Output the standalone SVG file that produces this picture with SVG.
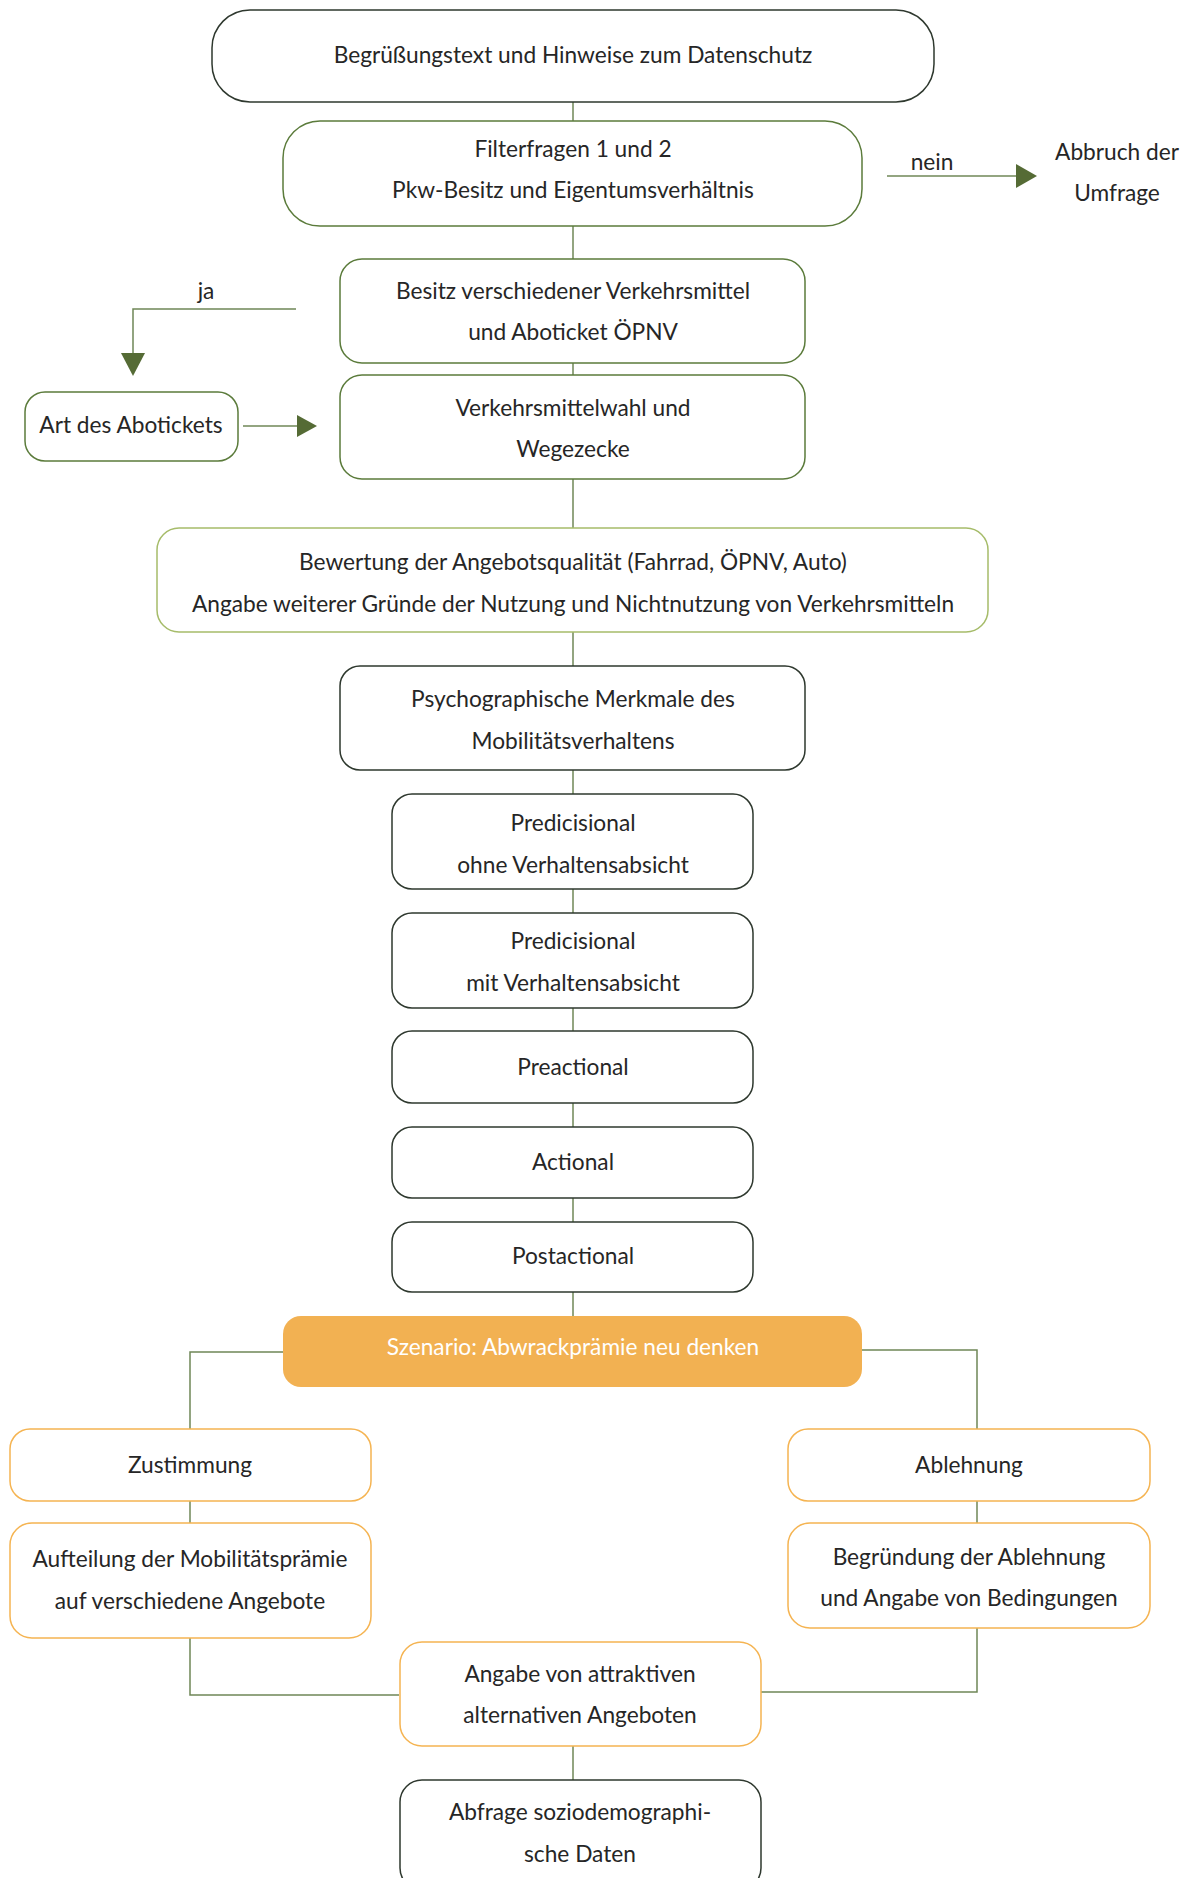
<svg xmlns="http://www.w3.org/2000/svg" width="1194" height="1878" viewBox="0 0 1194 1878">
<defs>
<style>
text{font-family:"Lato","Liberation Sans",sans-serif;font-size:22.7px;fill:#262626;text-anchor:middle;dominant-baseline:central}
.dark{fill:#fff;stroke:#2e382e;stroke-width:1.5}
.green{fill:#fff;stroke:#5b7b3b;stroke-width:1.5}
.lgreen{fill:#fff;stroke:#a6bc6a;stroke-width:1.5}
.orange{fill:#fff;stroke:#f5b452;stroke-width:1.5}
.line{fill:none;stroke:#6f8757;stroke-width:1.5}
.arrow{fill:#556b35}
</style>
</defs>
<g id="connectors">
<line class="line" x1="573" y1="102" x2="573" y2="121"/>
<line class="line" x1="573" y1="226" x2="573" y2="259"/>
<line class="line" x1="573" y1="363" x2="573" y2="375"/>
<line class="line" x1="573" y1="479" x2="573" y2="528"/>
<line class="line" x1="573" y1="632" x2="573" y2="666"/>
<line class="line" x1="573" y1="770" x2="573" y2="794"/>
<line class="line" x1="573" y1="889" x2="573" y2="913"/>
<line class="line" x1="573" y1="1008" x2="573" y2="1031"/>
<line class="line" x1="573" y1="1103" x2="573" y2="1127"/>
<line class="line" x1="573" y1="1198" x2="573" y2="1222"/>
<line class="line" x1="573" y1="1292" x2="573" y2="1316"/>
<line class="line" x1="887" y1="176" x2="1017" y2="176"/>
<polygon class="arrow" points="1016,164 1037,176 1016,188"/>
<text x="932" y="161">nein</text>
<polyline class="line" points="296,309 133,309 133,354"/>
<polygon class="arrow" points="121,353 145,353 133,376"/>
<text x="206" y="290">ja</text>
<line class="line" x1="243" y1="426" x2="298" y2="426"/>
<polygon class="arrow" points="297,415 317,426 297,437"/>
<polyline class="line" points="283,1352 190,1352 190,1429"/>
<polyline class="line" points="862,1350 977,1350 977,1429"/>
<line class="line" x1="190" y1="1501" x2="190" y2="1523"/>
<line class="line" x1="977" y1="1501" x2="977" y2="1523"/>
<polyline class="line" points="190,1638 190,1695 399,1695"/>
<polyline class="line" points="977,1628 977,1692 760,1692"/>
<line class="line" x1="573" y1="1745" x2="573" y2="1780"/>
</g>
<g id="n1"><rect class="dark" x="212" y="10" width="722" height="92" rx="38"/><text x="573" y="54">Begrüßungstext und Hinweise zum Datenschutz</text></g>
<g id="n2"><rect class="green" x="283" y="121" width="579" height="105" rx="37"/><text x="573" y="148">Filterfragen 1 und 2</text><text x="573" y="189">Pkw-Besitz und Eigentumsverhältnis</text></g>
<g id="n_abbruch"><text x="1117" y="151">Abbruch der</text><text x="1117" y="192">Umfrage</text></g>
<g id="n3"><rect class="green" x="340" y="259" width="465" height="104" rx="22"/><text x="573" y="290">Besitz verschiedener Verkehrsmittel</text><text x="573" y="331">und Aboticket ÖPNV</text></g>
<g id="n4"><rect class="green" x="340" y="375" width="465" height="104" rx="22"/><text x="573" y="407">Verkehrsmittelwahl und</text><text x="573" y="448">Wegezecke</text></g>
<g id="n5"><rect class="green" x="25" y="392" width="213" height="69" rx="20"/><text x="131" y="424">Art des Abotickets</text></g>
<g id="n6"><rect class="lgreen" x="157" y="528" width="831" height="104" rx="22"/><text x="573" y="561">Bewertung der Angebotsqualität (Fahrrad, ÖPNV, Auto)</text><text x="573" y="603">Angabe weiterer Gründe der Nutzung und Nichtnutzung von Verkehrsmitteln</text></g>
<g id="n7"><rect class="dark" x="340" y="666" width="465" height="104" rx="20"/><text x="573" y="698">Psychographische Merkmale des</text><text x="573" y="740">Mobilitätsverhaltens</text></g>
<g id="n8"><rect class="dark" x="392" y="794" width="361" height="95" rx="20"/><text x="573" y="822">Predicisional</text><text x="573" y="864">ohne Verhaltensabsicht</text></g>
<g id="n9"><rect class="dark" x="392" y="913" width="361" height="95" rx="20"/><text x="573" y="940">Predicisional</text><text x="573" y="982">mit Verhaltensabsicht</text></g>
<g id="n10"><rect class="dark" x="392" y="1031" width="361" height="72" rx="20"/><text x="573" y="1066">Preactional</text></g>
<g id="n11"><rect class="dark" x="392" y="1127" width="361" height="71" rx="20"/><text x="573" y="1161">Actional</text></g>
<g id="n12"><rect class="dark" x="392" y="1222" width="361" height="70" rx="20"/><text x="573" y="1255">Postactional</text></g>
<g id="n13"><rect x="283" y="1316" width="579" height="71" rx="18" fill="#f2b152"/><text x="573" y="1346" style="fill:#fff">Szenario: Abwrackprämie neu denken</text></g>
<g id="n14"><rect class="orange" x="10" y="1429" width="361" height="72" rx="20"/><text x="190" y="1464">Zustimmung</text></g>
<g id="n15"><rect class="orange" x="10" y="1523" width="361" height="115" rx="22"/><text x="190" y="1558">Aufteilung der Mobilitätsprämie</text><text x="190" y="1600">auf verschiedene Angebote</text></g>
<g id="n16"><rect class="orange" x="788" y="1429" width="362" height="72" rx="20"/><text x="969" y="1464">Ablehnung</text></g>
<g id="n17"><rect class="orange" x="788" y="1523" width="362" height="105" rx="22"/><text x="969" y="1556">Begründung der Ablehnung</text><text x="969" y="1597">und Angabe von Bedingungen</text></g>
<g id="n18"><rect class="orange" x="400" y="1642" width="361" height="104" rx="22"/><text x="580" y="1673">Angabe von attraktiven</text><text x="580" y="1714">alternativen Angeboten</text></g>
<g id="n19"><rect class="dark" x="400" y="1780" width="361" height="110" rx="22"/><text x="580" y="1811">Abfrage soziodemographi-</text><text x="580" y="1853">sche Daten</text></g>
</svg>
